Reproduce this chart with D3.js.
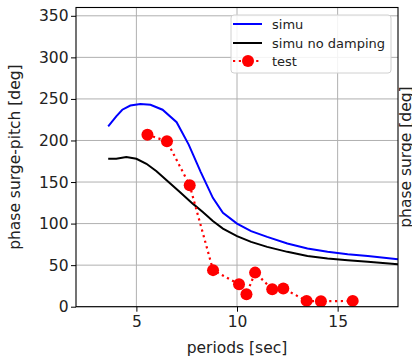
<!DOCTYPE html>
<html><head><meta charset="utf-8">
<script src="https://cdn.jsdelivr.net/npm/d3@7"></script>
<style>
html,body{margin:0;padding:0;background:#fff;}
svg text{font-family:"DejaVu Sans",sans-serif;}
</style></head>
<body><svg id="c" width="412" height="360"></svg>
<script>
// ---- data ----
const simuPeriods = [3.6,4.0,4.3,4.7,5.2,5.7,6.3,7.0,7.6,8.2,8.8,9.3,10.0,10.7,11.5,12.5,13.5,14.5,15.5,16.5,18.0];
const simuPhase   = [217,229,237,242,244,243,237,222,195,162,131,113,100,91,84,76,70,66,63,61,57];
const noDampPeriods = [3.6,4.0,4.5,5.0,5.5,6.0,6.6,7.2,7.8,8.3,8.8,9.3,10.0,10.7,11.5,12.5,13.5,14.5,15.5,16.5,18.0];
const noDampPhase   = [178,178,180,178,172,163,150,137,124,114,103,94,85,78,72,66,61,58,56,54,51];
const testPeriods = [5.55,6.52,7.65,8.81,10.1,10.47,10.9,11.75,12.3,13.46,14.17,15.75];
const testPhase   = [207,199,146,44,27,15,41,21,22,7,6.5,7];
const xTicks = [5,10,15];
const yTicks = [0,50,100,150,200,250,300,350];
const legendLabels = ["simu","simu no damping","test"];
const xLabel = "periods [sec]";
const yLabel = "phase surge-pitch [deg]";
const y2Label = "phase surge [deg]";

const svg = d3.select("#c");
const L=76, R=398, T=7.5, B=306.7;
const x = d3.scaleLinear().domain([2,18]).range([L,R]);
const y = d3.scaleLinear().domain([0,360]).range([B,T]);

// grid
const g = svg.append("g");
g.selectAll(".gx").data(xTicks).enter().append("line")
  .attr("x1",d=>x(d)).attr("x2",d=>x(d)).attr("y1",T).attr("y2",B)
  .attr("stroke","#b0b0b0").attr("stroke-width",1);
g.selectAll(".gy").data(yTicks).enter().append("line")
  .attr("x1",L).attr("x2",R).attr("y1",d=>y(d)).attr("y2",d=>y(d))
  .attr("stroke","#b0b0b0").attr("stroke-width",1);

// clip
svg.append("clipPath").attr("id","clip").append("rect")
  .attr("x",L).attr("y",T).attr("width",R-L).attr("height",B-T);
const plot = svg.append("g").attr("clip-path","url(#clip)");

const line = d3.line().x(d=>x(d[0])).y(d=>y(d[1]));
const simu = simuPeriods.map((p,i)=>[p,simuPhase[i]]);
const nod = noDampPeriods.map((p,i)=>[p,noDampPhase[i]]);
const test = testPeriods.map((p,i)=>[p,testPhase[i]]);

plot.append("path").datum(simu).attr("d",line).attr("fill","none")
  .attr("stroke","#0000ff").attr("stroke-width",2);
plot.append("path").datum(nod).attr("d",line).attr("fill","none")
  .attr("stroke","#000").attr("stroke-width",2);
plot.append("path").datum(test).attr("d",line).attr("fill","none")
  .attr("stroke","#ff0000").attr("stroke-width",2.2).attr("stroke-dasharray","2.2,3.6");
plot.selectAll(".m").data(test).enter().append("circle")
  .attr("cx",d=>x(d[0])).attr("cy",d=>y(d[1])).attr("r",6).attr("fill","#ff0000");

// axes
const xAxis = d3.axisBottom(x).tickValues(xTicks).tickSize(5).tickPadding(4);
const yAxis = d3.axisLeft(y).tickValues(yTicks).tickSize(5).tickPadding(4);
const gx = svg.append("g").attr("transform",`translate(0,${B})`).call(xAxis);
const gy = svg.append("g").attr("transform",`translate(${L},0)`).call(yAxis);
[gx,gy].forEach(a=>{
  a.select(".domain").remove();
  a.selectAll("line").attr("stroke","#000").attr("stroke-width",1);
  a.selectAll("text").attr("font-size","15.5px").attr("fill","#222").attr("font-family","DejaVu Sans");
});
gy.selectAll("text").attr("x",-7.5);
// frame
svg.append("rect").attr("x",L).attr("y",T).attr("width",R-L).attr("height",B-T)
  .attr("fill","none").attr("stroke","#000").attr("stroke-width",1.1);

// labels
svg.append("text").attr("x",(L+R)/2).attr("y",353).attr("text-anchor","middle")
  .attr("font-size","15.5px").attr("fill","#222").text(xLabel);
svg.append("text").attr("transform",`translate(20,${(T+B)/2}) rotate(-90)`).attr("text-anchor","middle")
  .attr("font-size","15.5px").attr("fill","#222").text(yLabel);
svg.append("text").attr("transform",`translate(411,${(T+B)/2}) rotate(-90)`).attr("text-anchor","middle")
  .attr("font-size","15.5px").attr("fill","#222").text(y2Label);

// legend
const lg = svg.append("g");
lg.append("rect").attr("x",231).attr("y",15).attr("width",160).attr("height",58).attr("rx",3)
  .attr("fill","#fff").attr("fill-opacity",0.85).attr("stroke","#d0d0d0").attr("stroke-width",1);
const ly = [24,43,61];
const cols = ["#0000ff","#000","#ff0000"];
legendLabels.forEach((lab,i)=>{
  const l = lg.append("line").attr("x1",233).attr("x2",262).attr("y1",ly[i]).attr("y2",ly[i])
    .attr("stroke",cols[i]).attr("stroke-width",2);
  if(i===2){ l.attr("stroke-dasharray","2.2,3.6");
    lg.append("circle").attr("cx",248).attr("cy",ly[i]).attr("r",6).attr("fill","#ff0000"); }
  lg.append("text").attr("x",272).attr("y",ly[i]+4.5).attr("font-size","13px").attr("fill","#222").text(lab);
});
</script></body></html>
